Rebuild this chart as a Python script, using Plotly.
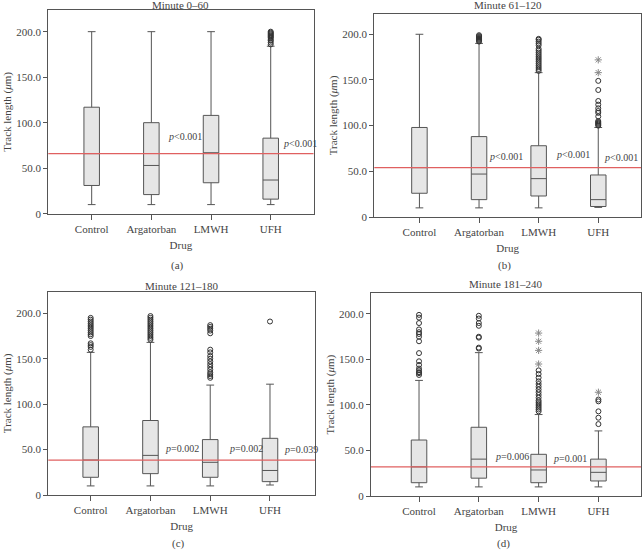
import plotly.graph_objects as go

categories = ["Control", "Argatorban", "LMWH", "UFH"]
y_tickvals = [0, 50, 100, 150, 200]
y_ticktext = ["0", "50.0", "100.0", "150.0", "200.0"]
titles = ["Minute 0–60", "Minute 61–120", "Minute 121–180", "Minute 181–240"]
panel_labels = ["(a)", "(b)", "(c)", "(d)"]

# Panel (a)
a_q1 = [31, 21, 34, 16]
a_med = [66, 53, 67, 37]
a_q3 = [117, 100, 108, 83]
a_lo = [10, 10, 10, 10]
a_hi = [200, 200, 200, 184]
a_out = {"UFH": [186, 188, 190, 191, 193, 194, 195, 196, 197, 198, 199, 200]}
a_star = {}
a_p = {"Argatorban": ("<i>p</i>&lt;0.001", 84.6), "UFH": ("<i>p</i>&lt;0.001", 76.6)}

# Panel (b)
b_q1 = [26, 19, 23, 11.5]
b_med = [54, 47, 42, 19]
b_q3 = [98, 88, 78, 46]
b_lo = [10, 10, 10, 10.5]
b_hi = [200, 190, 158, 98]
b_out = {
    "Argatorban": [192, 193, 194, 195, 196, 197, 198, 199],
    "LMWH": [160, 162, 164, 166, 168, 170, 172, 174, 176, 178, 180, 182, 184, 188, 190, 192, 194, 195],
    "UFH": [100, 101, 102, 103, 104, 105, 110, 114, 116, 119, 123, 127, 139, 149],
}
b_star = {"UFH": [158, 172]}
b_p = {"Argatorban": ("<i>p</i>&lt;0.001", 66), "LMWH": ("<i>p</i>&lt;0.001", 68.7),
       "UFH": ("<i>p</i>&lt;0.001", 64.6)}

# Panel (c)
c_q1 = [19.5, 23.5, 19.5, 14.7]
c_med = [38.5, 43.6, 36, 27]
c_q3 = [75, 82, 61, 62.4]
c_lo = [10, 10, 10, 11]
c_hi = [157, 168, 121, 122]
c_out = {
    "Control": [160, 163, 165, 167, 175, 177, 179, 181, 183, 185, 187, 189, 191, 193, 195],
    "Argatorban": [171, 173, 175, 177, 179, 181, 183, 185, 187, 189, 191, 193, 195, 197],
    "LMWH": [129, 131, 133, 135, 138, 141, 144, 147, 150, 153, 157, 160, 178, 181, 183, 185, 187],
    "UFH": [191],
}
c_star = {}
c_p = {"Argatorban": ("<i>p</i>=0.002", 51.4), "LMWH": ("<i>p</i>=0.002", 51.4),
       "UFH": ("<i>p</i>=0.039", 50.3)}

# Panel (d)
d_q1 = [14.6, 19.6, 14.6, 16.5]
d_med = [32, 40.5, 28.6, 26]
d_q3 = [61.5, 75.5, 45.8, 40.5]
d_lo = [10, 10, 10, 10]
d_hi = [127, 157.5, 89.5, 71.5]
d_out = {
    "Control": [133, 135, 136, 138, 140, 144, 148, 157, 170, 175, 178, 180, 183, 190, 196, 199],
    "Argatorban": [162, 163, 174, 175, 187, 190, 195, 198],
    "LMWH": [93, 95, 97, 99, 101, 103, 105, 108, 111, 114, 117, 120, 123, 126, 130, 134, 138],
    "UFH": [79, 86, 93, 104, 106],
}
d_star = {"LMWH": [145, 160, 170, 179], "UFH": [114]}
d_p = {"Argatorban": ("<i>p</i>=0.006", 42.9), "LMWH": ("<i>p</i>=0.001", 41)}

panels = [
    (a_q1, a_med, a_q3, a_lo, a_hi, a_out, a_star, a_p),
    (b_q1, b_med, b_q3, b_lo, b_hi, b_out, b_star, b_p),
    (c_q1, c_med, c_q3, c_lo, c_hi, c_out, c_star, c_p),
    (d_q1, d_med, d_q3, d_lo, d_hi, d_out, d_star, d_p),
]

W, H = 642, 552
# layout (pixels): left, right, top, bottom of each plot frame
frames = [
    (48.3, 313.5, 10.0, 213.7),
    (374.3, 641.0, 14.0, 217.0),
    (48.3, 315.0, 291.7, 495.0),
    (371.0, 641.0, 293.3, 496.0),
]
title_y = [5, 5, 286, 284]
label_y = [265.5, 266, 543, 543]
x_ranges = [(-0.727, 3.717), (-0.757, 3.717), (-0.709, 3.753), (-0.803, 3.712)]
y_tops = [223.8, 222.2, 223.8, 222.7]
p_offsets = [{"Argatorban": 1.245, "UFH": 3.17},
             {"Argatorban": 1.13, "LMWH": 2.26, "UFH": 3.06},
             {"Argatorban": 1.215, "LMWH": 2.275, "UFH": 3.195},
             {"Argatorban": 1.24, "LMWH": 2.21}]

FONT = "Liberation Serif"
TXT = "#444444"
LINE = "#555555"
pos = list(range(len(categories)))

fig = go.Figure()
layout = dict(width=W, height=H, margin=dict(l=0, r=0, t=0, b=0),
              paper_bgcolor="white", plot_bgcolor="white", showlegend=False,
              font=dict(family=FONT, size=11, color=TXT))
annotations = []
shapes = []

for i, (q1, med, q3, lo, hi, outs, stars, pvals) in enumerate(panels):
    sfx = "" if i == 0 else str(i + 1)
    xa, ya = "x" + sfx, "y" + sfx
    l, r, t, b = frames[i]
    layout["xaxis" + sfx] = dict(
        domain=[l / W, r / W], range=list(x_ranges[i]), anchor=ya, automargin=False,
        tickvals=pos, ticktext=categories, ticks="outside", ticklen=5, ticklabelstandoff=0,
        tickcolor=LINE, showline=True, linecolor=LINE, linewidth=1, mirror=True,
        showgrid=False, zeroline=False, tickfont=dict(size=11, color=TXT),
        title=dict(text="Drug", font=dict(size=11, color=TXT), standoff=7))
    layout["yaxis" + sfx] = dict(
        domain=[1 - b / H, 1 - t / H], range=[0, y_tops[i]], anchor=xa, automargin=False,
        tickvals=y_tickvals, ticktext=y_ticktext, ticks="outside", ticklen=4,
        tickcolor=LINE, showline=True, linecolor=LINE, linewidth=1, mirror=True,
        showgrid=False, zeroline=False, tickfont=dict(size=11, color=TXT),
        title=dict(text="Track length (<i>μ</i>m)", font=dict(size=11, color=TXT), standoff=2))

    fig.add_trace(go.Box(
        x=pos, q1=q1, median=med, q3=q3, lowerfence=lo, upperfence=hi,
        width=0.26, whiskerwidth=0.5, fillcolor="#e6e6e6",
        line=dict(color=LINE, width=1), boxpoints=False,
        xaxis=xa, yaxis=ya, hoverinfo="skip"))

    for cat, vals in outs.items():
        k = categories.index(cat)
        fig.add_trace(go.Scatter(
            x=[k] * len(vals), y=vals, mode="markers", xaxis=xa, yaxis=ya,
            marker=dict(symbol="circle-open", size=5, color="#333333", line=dict(width=1))))
    for cat, vals in stars.items():
        k = categories.index(cat)
        fig.add_trace(go.Scatter(
            x=[k] * len(vals), y=vals, mode="markers", xaxis=xa, yaxis=ya,
            marker=dict(symbol="asterisk-open", size=6, color="#888888", line=dict(width=1))))

    # reference line at the control median
    shapes.append(dict(type="line", xref=xa + " domain", yref=ya, x0=0, x1=1,
                       y0=med[0], y1=med[0], line=dict(color="#e06060", width=1.2)))

    for cat, (txt, yv) in pvals.items():
        annotations.append(dict(text=txt, x=p_offsets[i][cat], y=yv, xref=xa, yref=ya,
                                xanchor="left", yanchor="middle", showarrow=False,
                                font=dict(size=10, color=TXT)))

    cx = (l + r) / 2 / W
    annotations.append(dict(text=titles[i], x=cx, y=1 - title_y[i] / H, xref="paper", yref="paper",
                            xanchor="center", yanchor="middle", showarrow=False,
                            font=dict(size=11, color=TXT)))
    annotations.append(dict(text=panel_labels[i], x=cx - 3 / W, y=1 - label_y[i] / H,
                            xref="paper", yref="paper", xanchor="center", yanchor="middle",
                            showarrow=False, font=dict(size=11, color=TXT)))

layout["annotations"] = annotations
layout["shapes"] = shapes
fig.update_layout(**layout)
fig.write_html("out.html", config={"displayModeBar": False},
               post_script="document.body.style.margin='0';")
